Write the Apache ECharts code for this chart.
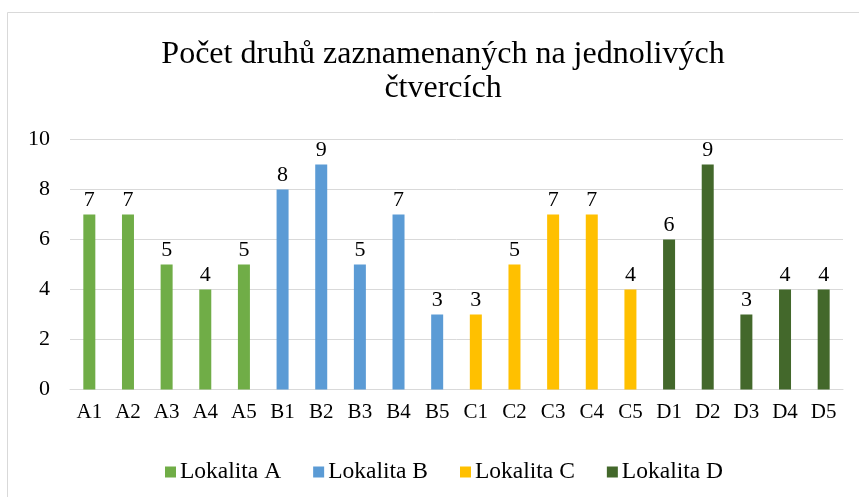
<!DOCTYPE html>
<html>
<head>
<meta charset="utf-8">
<script src="https://cdn.jsdelivr.net/npm/echarts@6/dist/echarts.min.js"></script>
<style>
  html, body { margin: 0; padding: 0; background: #fff; }
  #chart { width: 859px; height: 497px; }
</style>
</head>
<body>
<div id="chart"></div>
<script>
// data
var categories = ['A1', 'A2', 'A3', 'A4', 'A5', 'B1', 'B2', 'B3', 'B4', 'B5',
  'C1', 'C2', 'C3', 'C4', 'C5', 'D1', 'D2', 'D3', 'D4', 'D5'];
var seriesNames = ['Lokalita A', 'Lokalita B', 'Lokalita C', 'Lokalita D'];
var valuesA = [7, 7, 5, 4, 5];
var valuesB = [8, 9, 5, 7, 3];
var valuesC = [3, 5, 7, 7, 4];
var valuesD = [6, 9, 3, 4, 4];
var yTicks = [0, 2, 4, 6, 8, 10];

var colors = ['#70AD47', '#5B9BD5', '#FFC000', '#43682B'];
var groups = [valuesA, valuesB, valuesC, valuesD];
var font = "'Liberation Serif', 'DejaVu Serif', serif";

// each locality only fills its own five categories
function spread(idx) {
  var out = [];
  for (var i = 0; i < categories.length; i++) {
    var g = Math.floor(i / 5);
    out.push(g === idx ? groups[idx][i % 5] : null);
  }
  return out;
}

var series = seriesNames.map(function (name, idx) {
  return {
    name: name,
    type: 'bar',
    stack: 'one',
    barWidth: 12,
    data: spread(idx),
    itemStyle: { color: colors[idx] },
    label: {
      show: true,
      position: 'top',
      distance: 3,
      color: '#000',
      fontFamily: font,
      fontSize: 22
    }
  };
});

var myChart = echarts.init(document.getElementById('chart'));
var option = {
  backgroundColor: '#fff',
  animation: false,
  graphic: [{
    type: 'rect',
    shape: { x: 7.5, y: 12.5, width: 900, height: 600 },
    style: { fill: 'none', stroke: '#d9d9d9', lineWidth: 1 },
    silent: true
  }],
  title: {
    text: 'Počet druhů zaznamenaných na jednolivých\nčtvercích',
    left: 438,
    textAlign: 'center',
    top: 33,
    textStyle: {
      fontFamily: font,
      fontSize: 32,
      fontWeight: 'normal',
      color: '#000',
      lineHeight: 34
    }
  },
  grid: {
    left: 70,
    right: 16,
    top: 139.5,
    bottom: 107.5,
    containLabel: false
  },
  legend: {
    data: seriesNames,
    left: 160,
    top: 455,
    itemWidth: 11,
    itemHeight: 11,
    itemGap: 32,
    icon: 'rect',
    textStyle: { fontFamily: font, fontSize: 23.5, color: '#000', padding: [0, 0, 0, -1] }
  },
  xAxis: {
    type: 'category',
    data: categories,
    axisLine: { lineStyle: { color: '#d9d9d9', width: 1 } },
    axisTick: { show: false },
    axisLabel: {
      color: '#000',
      fontFamily: font,
      fontSize: 21,
      margin: 12,
      interval: 0
    }
  },
  yAxis: {
    type: 'value',
    min: yTicks[0],
    max: yTicks[yTicks.length - 1],
    interval: yTicks[1] - yTicks[0],
    axisLine: { show: false },
    axisTick: { show: false },
    axisLabel: {
      color: '#000',
      fontFamily: font,
      fontSize: 22,
      margin: 20
    },
    splitLine: { lineStyle: { color: '#d9d9d9', width: 1 } }
  },
  series: series
};
myChart.setOption(option);
</script>
</body>
</html>
